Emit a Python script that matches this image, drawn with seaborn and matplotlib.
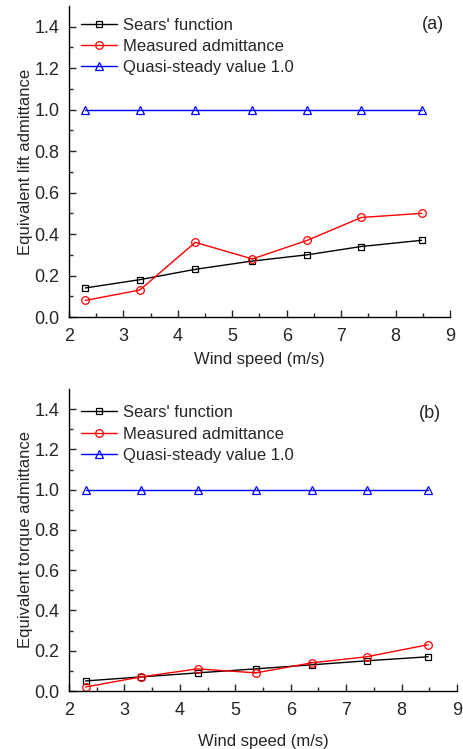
import matplotlib
matplotlib.use("Agg")
import matplotlib.pyplot as plt
import matplotlib.ticker as mticker
import seaborn as sns

sns.set_theme(style="ticks")
plt.rcParams["font.family"] = ["Liberation Sans", "DejaVu Sans"]

wind_speed = [2.3, 3.3, 4.32, 5.37, 6.38, 7.37, 8.48]

lift_sears = [0.14, 0.18, 0.23, 0.27, 0.30, 0.34, 0.37]
lift_measured = [0.08, 0.13, 0.36, 0.28, 0.37, 0.48, 0.50]
torque_sears = [0.05, 0.07, 0.09, 0.11, 0.13, 0.15, 0.17]
torque_measured = [0.02, 0.07, 0.11, 0.09, 0.14, 0.17, 0.23]
quasi_steady = [1.0] * len(wind_speed)

fig = plt.figure(figsize=(4.64, 7.49), dpi=100)
ax_a = fig.add_axes([69 / 464, 1 - 317 / 749, 381 / 464, 311 / 749])
ax_b = fig.add_axes([69 / 464, 1 - 691 / 749, 388 / 464, 302 / 749])


def draw(ax, sears, measured, ylabel, tag, tag_pos, leg_y, xpad):
    sns.lineplot(x=wind_speed, y=sears, ax=ax, color="black", marker="s", markersize=4.5,
                 mfc="none", mec="black", mew=0.9, linewidth=1, label="Sears' function")
    sns.lineplot(x=wind_speed, y=measured, ax=ax, color="red", marker="o", markersize=5.5,
                 mfc="none", mec="red", mew=0.9, linewidth=1, label="Measured admittance")
    sns.lineplot(x=wind_speed, y=quasi_steady, ax=ax, color="blue", marker="^", markersize=5.5,
                 mfc="none", mec="blue", mew=0.9, linewidth=1, label="Quasi-steady value 1.0")
    ax.set_xlim(2, 9)
    ax.set_ylim(0, 1.5)
    ax.xaxis.set_major_locator(mticker.MultipleLocator(1))
    ax.xaxis.set_minor_locator(mticker.MultipleLocator(0.5))
    ax.yaxis.set_major_locator(mticker.FixedLocator([0, 0.2, 0.4, 0.6, 0.8, 1.0, 1.2, 1.4]))
    ax.yaxis.set_minor_locator(mticker.FixedLocator([0.1, 0.3, 0.5, 0.7, 0.9, 1.1, 1.3]))
    ax.yaxis.set_major_formatter(mticker.FormatStrFormatter("%.1f"))
    ax.tick_params(which="major", direction="in", length=5, width=1, labelsize=13, pad=7)
    ax.tick_params(axis="x", which="major", pad=8)
    ax.tick_params(which="minor", direction="in", length=3, width=1)
    sns.despine(ax=ax)
    for s in ("left", "bottom"):
        ax.spines[s].set_linewidth(1)
        ax.spines[s].set_color("black")
    ax.set_xlabel("Wind speed (m/s)", fontsize=12, labelpad=xpad)
    ax.set_ylabel(ylabel, fontsize=12, labelpad=1)
    ax.legend(loc="upper left", frameon=False, fontsize=12, handlelength=2.2,
              handletextpad=0.35, borderaxespad=0.3, labelspacing=0.38,
              bbox_to_anchor=(0.0, leg_y))
    ax.text(tag_pos[0], tag_pos[1], tag, transform=ax.transAxes, ha="right", va="center",
            fontsize=13)


draw(ax_a, lift_sears, lift_measured, "Equivalent lift admittance", "(a)", (0.984, 0.939), 1.0, 5)
draw(ax_b, torque_sears, torque_measured, "Equivalent torque admittance", "(b)", (0.96, 0.92), 0.985, 11)

fig.savefig("out.png", dpi=100)
